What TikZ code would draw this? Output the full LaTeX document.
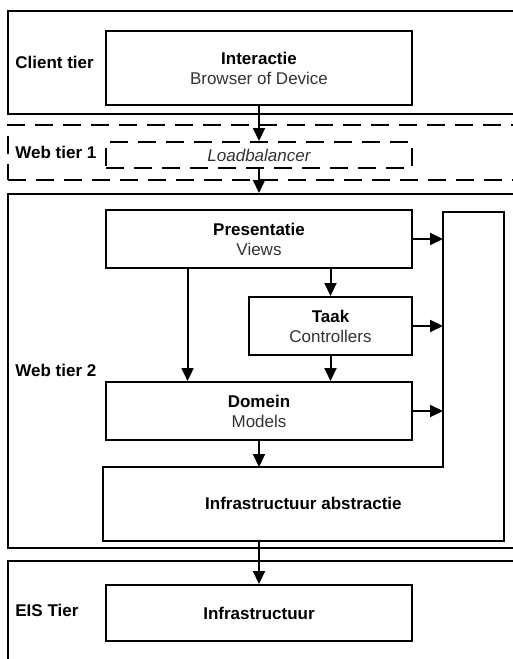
\documentclass[tikz,border=0pt]{standalone}
\usepackage{fontspec}
\setmainfont{Liberation Sans}
\usetikzlibrary{positioning,calc,arrows.meta}
\tikzset{line/.style={draw, line width=1pt, -{Triangle[length=6.5pt,width=6pt]}}}
\newcommand{\subtxt}[1]{\textcolor{black!80}{#1}}

\begin{document}
\begin{tikzpicture}[x=0.5pt,y=-0.5pt,font=\fontsize{8.5}{10}\selectfont]
\tikzstyle{block} = [rectangle, draw, line width=1pt, minimum width=153pt, minimum height=29pt, align=center, inner sep=0pt]
\tikzstyle{tier} = [rectangle, draw, line width=0.9pt, anchor=north west, minimum width=256.5pt, inner sep=0pt]
\tikzstyle{tierlabel} = [anchor=west, font=\fontsize{8.5}{10}\selectfont\bfseries, inner sep=0pt]

\useasboundingbox (0,0) rectangle (513,659);
% tiers
    \node [tier, minimum height=51.5pt] (client) at (7,10) {};
    \node [tier, dash pattern=on 9pt off 5pt, minimum height=27.5pt] (web1) at (7,124) {};
    \node [tier, minimum height=177pt] (web2) at (7,193) {};
    \node [tier, minimum height=55pt] (eis) at (7,560) {};
    \node [tierlabel, right=4pt of client.west] (clientlbl) {Client tier};
    \node [tierlabel, right=4pt of web1.west] (web1lbl) {Web tier 1};
    \node [tierlabel, right=4pt of web2.west] (web2lbl) {Web tier 2};
    \node [tierlabel] (eislbl) at (15,610) {EIS Tier};
% blocks
    \node [block, minimum height=37pt] (inter) at (259,68) {\textbf{Interactie}\\\subtxt{Browser of Device}};
    \node [block, dash pattern=on 9pt off 5pt, minimum height=13pt, below=17.5pt of inter] (lb) {\subtxt{\itshape Loadbalancer}};
    \node [block, below=20pt of lb] (pres) {\textbf{Presentatie}\\\subtxt{Views}};
    \node [block, minimum width=81.5pt, below=13.5pt of pres.south east, anchor=north east] (taak) {\textbf{Taak}\\\subtxt{Controllers}};
    \node [block, below=56pt of pres] (dom) {\textbf{Domein}\\\subtxt{Models}};
    \node [minimum width=200pt, minimum height=36.5pt, inner sep=0pt, anchor=north west, font=\fontsize{8.5}{10}\selectfont\bfseries] (abs) at ([xshift=-1pt,yshift=-13pt]dom.south west) {Infrastructuur abstractie};
    \node [minimum width=30pt, minimum height=127pt, inner sep=0pt, anchor=south east] (bar) at (abs.north east) {};
    \draw [line width=1pt] (abs.north west) -- (bar.south west) -- (bar.north west) -- (bar.north east) -- (abs.south east) -- (abs.south west) -- cycle;
    \node [block, minimum height=28pt, font=\fontsize{8.5}{10}\selectfont\bfseries] (infra) at (259,613) {Infrastructuur};
% arrows
    \path [line] (inter.south) -- (lb.north);
    \path [line] (lb.south) -- (lb.south |- web2.north);
    \path [line] (pres.east) -- (pres.east -| bar.west);
    \path [line] (taak.east) -- (taak.east -| bar.west);
    \path [line] (dom.east) -- (dom.east -| bar.west);
    \path [line] (pres.south -| taak.north) -- (taak.north);
    \path [line] (taak.south) -- (taak.south |- dom.north);
    \path [line] ($(pres.south west)!0.268!(pres.south east)$) -- ($(dom.north west)!0.268!(dom.north east)$);
    \path [line] (dom.south) -- (dom.south |- abs.north);
    \path [line] (infra.north |- abs.south) -- (infra.north);
\end{tikzpicture}
\end{document}
